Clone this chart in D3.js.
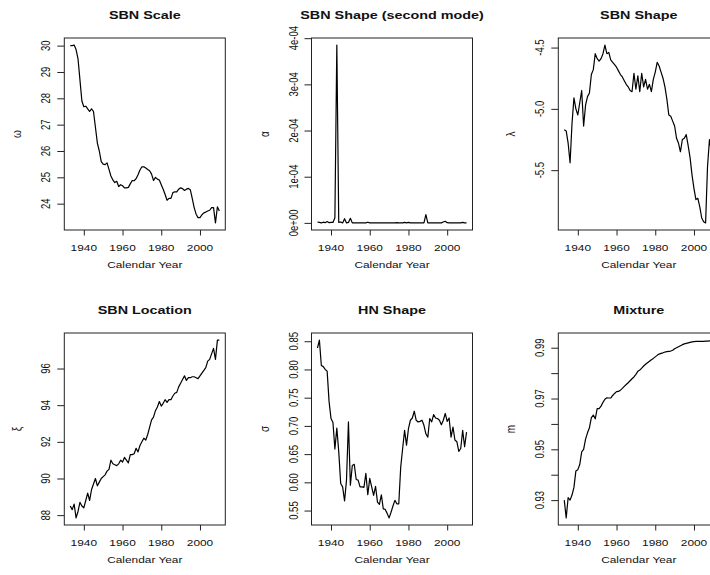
<!DOCTYPE html>
<html>
<head>
<meta charset="utf-8">
<script src="https://cdn.jsdelivr.net/npm/d3@7/dist/d3.min.js"></script>
<style>
  body { margin: 0; background: #fff; }
  svg { display: block; }
  text { font-family: "Liberation Sans", Arial, Helvetica, sans-serif; fill: #111; }
</style>
</head>
<body>
<div id="chart"></div>
<script>
// calendar years 1933..2010
const years = [1933,1934,1935,1936,1937,1938,1939,1940,1941,1942,1943,1944,1945,1946,1947,1948,1949,1950,
  1951,1952,1953,1954,1955,1956,1957,1958,1959,1960,1961,1962,1963,1964,1965,1966,1967,1968,1969,1970,
  1971,1972,1973,1974,1975,1976,1977,1978,1979,1980,1981,1982,1983,1984,1985,1986,1987,1988,1989,1990,
  1991,1992,1993,1994,1995,1996,1997,1998,1999,2000,2001,2002,2003,2004,2005,2006,2007,2008,2009,2010];

// SBN scale (omega)
const sbnScale = [30.00,30.00,30.02,29.85,29.50,28.70,27.90,27.68,27.70,27.60,27.50,27.60,27.50,26.90,26.30,26.00,25.60,25.50,
  25.48,25.55,25.30,25.05,24.90,24.80,24.85,24.65,24.72,24.68,24.60,24.60,24.62,24.75,24.88,24.87,24.95,25.10,25.28,25.40,
  25.40,25.35,25.30,25.25,25.12,24.88,25.00,24.93,24.90,24.72,24.55,24.35,24.13,24.20,24.20,24.42,24.45,24.45,24.55,24.60,
  24.57,24.50,24.55,24.58,24.53,24.20,23.85,23.60,23.47,23.47,23.58,23.65,23.68,23.72,23.75,23.85,23.85,23.27,23.88,23.72];

// SBN shape, second mode (alpha)
const sbnShape2 = [2e-6,1e-6,0,1.5e-6,0.5e-6,3e-6,0.5e-6,1e-6,1e-6,1.1e-5,3.85e-4,1e-6,2e-6,0,9e-6,0,1e-6,1e-5,
  0,0,0,0,0,0,0,0,1.5e-6,0,0,0,0,0,0,0,0,0,0,0,
  0,0,0,0.5e-6,0,0,0,1e-6,0,1e-6,0,0,0,0,0,0,0,0,1.8e-5,0,
  0,0,0,0,0,0,0,2e-6,3.5e-6,0.5e-6,0,0,0,0,0,0,0,1e-6,0,0];

// SBN shape (lambda)
const sbnShape = [-5.17,-5.18,-5.28,-5.44,-5.12,-4.91,-5.00,-5.05,-4.95,-4.85,-5.14,-4.97,-4.90,-4.87,-4.72,-4.68,-4.55,-4.59,
  -4.61,-4.59,-4.55,-4.48,-4.55,-4.54,-4.60,-4.62,-4.64,-4.66,-4.69,-4.72,-4.74,-4.77,-4.80,-4.82,-4.85,-4.86,-4.71,-4.84,
  -4.73,-4.86,-4.71,-4.82,-4.76,-4.84,-4.80,-4.86,-4.76,-4.70,-4.62,-4.65,-4.70,-4.75,-4.82,-4.92,-5.05,-5.06,-5.10,-5.14,
  -5.24,-5.28,-5.35,-5.25,-5.24,-5.21,-5.30,-5.40,-5.54,-5.65,-5.74,-5.73,-5.80,-5.89,-5.92,-5.93,-5.47,-5.25,-5.35,-5.20];

// SBN location (xi)
const sbnLocation = [88.50,88.30,88.60,87.85,88.20,88.70,88.50,88.40,88.80,89.20,88.80,89.40,89.70,90.00,89.60,89.80,90.00,90.10,
  90.20,90.40,90.50,91.00,90.80,90.75,90.70,90.80,91.00,90.90,91.15,91.00,90.85,91.30,91.30,91.35,91.65,91.45,91.80,92.00,
  92.20,92.10,92.40,92.80,93.20,93.35,93.70,93.90,94.20,93.95,94.10,94.30,94.15,94.30,94.30,94.50,94.65,94.70,95.00,95.20,
  95.40,95.60,95.35,95.50,95.50,95.55,95.55,95.50,95.45,95.60,95.75,95.90,96.05,96.40,96.50,96.80,97.10,96.50,97.55,97.55];

// HN shape (sigma)
const hnShape = [0.838,0.852,0.807,0.805,0.800,0.797,0.743,0.713,0.706,0.659,0.696,0.654,0.598,0.592,0.567,0.604,0.707,0.595,
  0.630,0.632,0.605,0.604,0.592,0.592,0.591,0.616,0.578,0.607,0.592,0.577,0.593,0.565,0.561,0.578,0.553,0.552,0.545,0.537,
  0.547,0.558,0.568,0.562,0.562,0.627,0.660,0.692,0.666,0.695,0.710,0.714,0.726,0.710,0.707,0.708,0.710,0.701,0.686,0.680,
  0.713,0.707,0.720,0.714,0.713,0.710,0.702,0.710,0.722,0.708,0.714,0.680,0.698,0.675,0.672,0.655,0.660,0.692,0.663,0.689];

// mixture (m)
const mixture = [0.930,0.923,0.931,0.930,0.932,0.935,0.9415,0.942,0.944,0.949,0.950,0.954,0.9565,0.9585,0.9625,0.9635,0.962,0.966,
  0.966,0.967,0.9685,0.9697,0.9703,0.9702,0.9702,0.9712,0.9720,0.9727,0.9728,0.9733,0.9740,0.9748,0.9755,0.9762,0.9770,0.9778,0.9785,0.9795,
  0.9807,0.9812,0.9820,0.9828,0.9835,0.9841,0.9847,0.9853,0.9858,0.9864,0.9870,0.9875,0.9878,0.9880,0.9883,0.9885,0.9886,0.9887,0.9890,0.9896,
  0.9900,0.9904,0.9908,0.9912,0.9915,0.9917,0.9919,0.9921,0.9923,0.9924,0.9925,0.9925,0.9925,0.9925,0.9925,0.9926,0.9926,0.9927,0.9928,0.9930];

// tick values and labels
const xTicks = [1940, 1960, 1980, 2000];
const scaleTicks = [24, 25, 26, 27, 28, 29, 30];
const scaleLabels = ['24', '25', '26', '27', '28', '29', '30'];
const shape2Ticks = [0, 1e-4, 2e-4, 3e-4, 4e-4];
const shape2Labels = ['0e+00', '1e-04', '2e-04', '3e-04', '4e-04'];
const shapeTicks = [-5.5, -5.0, -4.5];
const shapeLabels = ['-5.5', '-5.0', '-4.5'];
const locationTicks = [88, 90, 92, 94, 96];
const locationLabels = ['88', '90', '92', '94', '96'];
const hnTicks = [0.55, 0.60, 0.65, 0.70, 0.75, 0.80, 0.85];
const hnLabels = ['0.55', '0.60', '0.65', '0.70', '0.75', '0.80', '0.85'];
const mixTicks = [0.93, 0.94, 0.95, 0.96, 0.97, 0.98, 0.99];
const mixLabels = ['0.93', '', '0.95', '', '0.97', '', '0.99'];

const panels = [
  { title: 'SBN Scale', ylab: 'ω', values: sbnScale, ticks: scaleTicks, labels: scaleLabels },
  { title: 'SBN Shape (second mode)', ylab: 'α', values: sbnShape2, ticks: shape2Ticks, labels: shape2Labels },
  { title: 'SBN Shape', ylab: 'λ', values: sbnShape, ticks: shapeTicks, labels: shapeLabels },
  { title: 'SBN Location', ylab: 'ξ', values: sbnLocation, ticks: locationTicks, labels: locationLabels },
  { title: 'HN Shape', ylab: 'σ', values: hnShape, ticks: hnTicks, labels: hnLabels },
  { title: 'Mixture', ylab: 'm', values: mixture, ticks: mixTicks, labels: mixLabels }
];

// layout (the figure looks slightly stretched horizontally, so text gets scaled too)
const width = 710, height = 575;
const SX = 1.25;
const colLeft = [64.3, 311.5, 558.3];
const rowTop = [38, 333];
const pw = 161, ph = 192;

const svg = d3.select('#chart').append('svg')
  .attr('width', width)
  .attr('height', height);

// R style range padding (4% each side)
function padded(ext) {
  const d = ext[1] - ext[0];
  return [ext[0] - 0.04 * d, ext[1] + 0.04 * d];
}

function label(g, x, y, str, size, opts = {}) {
  const rot = opts.rotate ? ` rotate(${opts.rotate})` : '';
  return g.append('text')
    .attr('transform', `translate(${x},${y}) scale(${SX},1)${rot}`)
    .attr('text-anchor', 'middle')
    .style('font-size', size + 'px')
    .style('font-weight', opts.bold ? 'bold' : 'normal')
    .text(str);
}

panels.forEach((p, i) => {
  const left = colLeft[i % 3];
  const top = rowTop[Math.floor(i / 3)];
  const bottom = top + ph;

  const x = d3.scaleLinear()
    .domain(padded(d3.extent(years)))
    .range([left, left + pw]);
  const y = d3.scaleLinear()
    .domain(padded(d3.extent(p.values)))
    .range([bottom, top]);

  const g = svg.append('g');

  // x axis
  g.append('g')
    .attr('transform', `translate(0,${bottom})`)
    .call(d3.axisBottom(x).tickValues(xTicks).tickSize(5.5).tickFormat(''))
    .call(a => a.select('.domain').remove())
    .call(a => a.selectAll('line').attr('stroke', '#222'));
  xTicks.forEach(t => label(g, x(t), bottom + 21, String(t), 9.5));

  // y axis
  g.append('g')
    .attr('transform', `translate(${left},0)`)
    .call(d3.axisLeft(y).tickValues(p.ticks).tickSize(7).tickFormat(''))
    .call(a => a.select('.domain').remove())
    .call(a => a.selectAll('line').attr('stroke', '#222'));
  p.ticks.forEach((t, k) => {
    if (p.labels[k]) label(g, left - 14, y(t), p.labels[k], 9.5, { rotate: -90 });
  });

  // series line
  const line = d3.line()
    .x((d, k) => x(years[k]))
    .y(d => y(d));
  g.append('path')
    .datum(p.values)
    .attr('fill', 'none')
    .attr('stroke', '#000')
    .attr('stroke-width', 1.2)
    .attr('stroke-linejoin', 'round')
    .attr('d', line);

  // box
  g.append('rect')
    .attr('x', left).attr('y', top)
    .attr('width', pw).attr('height', ph)
    .attr('fill', 'none')
    .attr('stroke', '#222')
    .attr('stroke-width', 1);

  // titles and axis labels
  label(g, left + pw / 2, top - 19, p.title, 11.5, { bold: true });
  label(g, left + pw / 2, bottom + 37.5, 'Calendar Year', 9.5);
  label(g, left - 43, top + ph / 2, p.ylab, 10, { rotate: -90 });
});
</script>
</body>
</html>
